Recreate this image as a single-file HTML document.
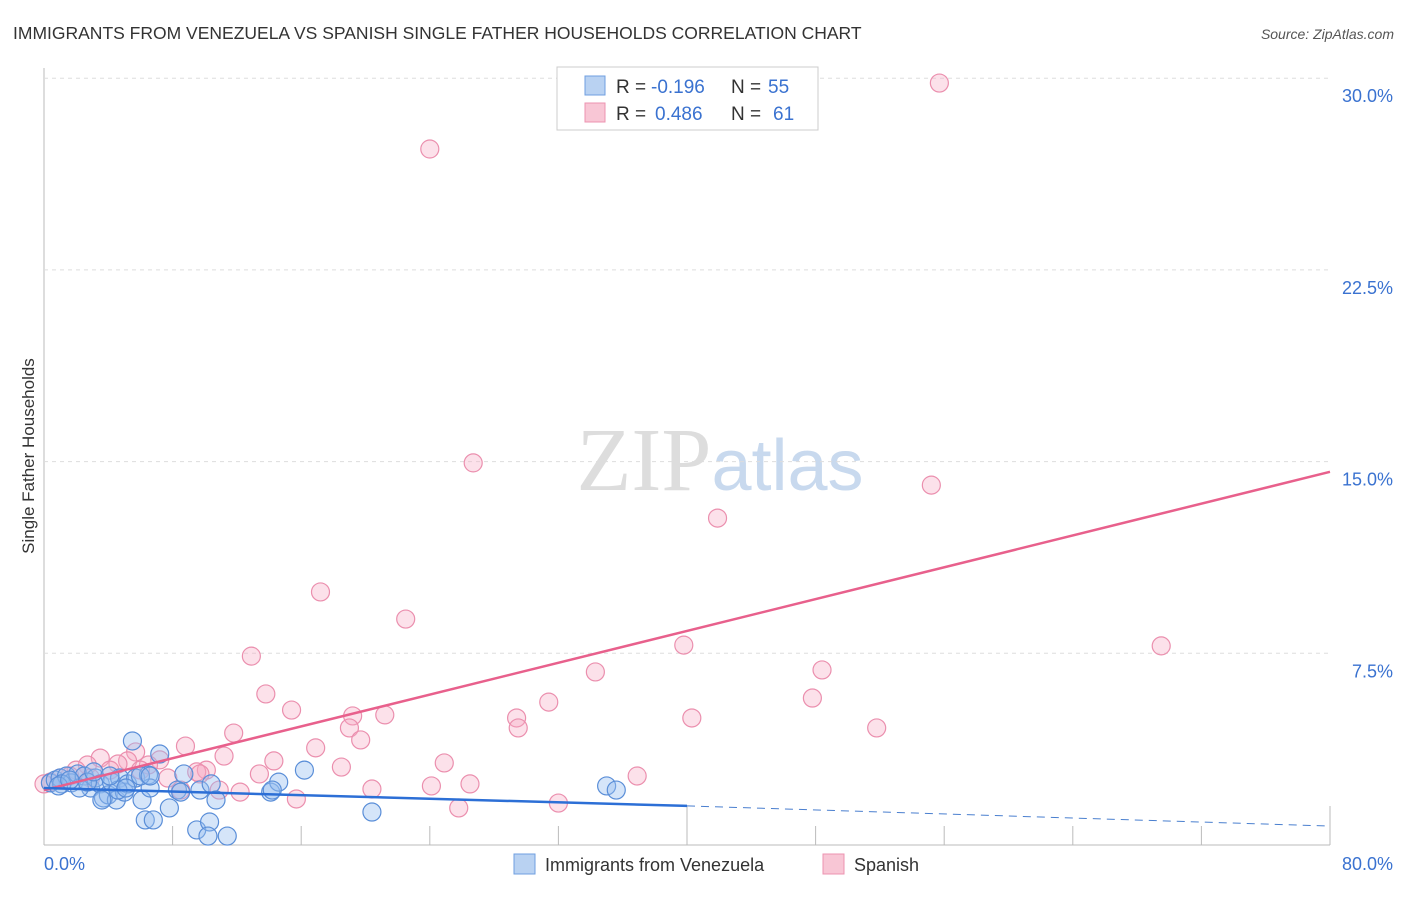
<!DOCTYPE html>
<html><head><meta charset="utf-8"><style>
body{margin:0;background:#fff;font-family:"Liberation Sans",sans-serif;}
</style></head><body>
<svg id="c" width="1406" height="892" xmlns="http://www.w3.org/2000/svg">
<text x="13" y="39" font-size="17.5" fill="#333">IMMIGRANTS FROM VENEZUELA VS SPANISH SINGLE FATHER HOUSEHOLDS CORRELATION CHART</text>
<text x="1394" y="39" font-size="14" fill="#555" font-style="italic" text-anchor="end">Source: ZipAtlas.com</text>
<text x="34" y="456" font-size="17" fill="#333" transform="rotate(-90 34 456)" text-anchor="middle">Single Father Households</text>
<text x="720" y="490" font-size="90" fill="#ddd" text-anchor="middle" font-family="Liberation Serif,serif">ZIP<tspan fill="#c8d9ee" font-family="Liberation Sans,sans-serif" font-size="72">atlas</tspan></text>
<g id="grid"></g><g id="pts"></g><g id="trend"></g>
<g>
<rect x="557" y="67" width="261" height="63" fill="#fff" stroke="#ccc"/>
<rect x="585" y="76" width="20" height="19" fill="#b9d2f2" stroke="#6f9fe0"/>
<rect x="585" y="103" width="20" height="19" fill="#f8c6d5" stroke="#ec93b0"/>
<text x="616" y="93" font-size="19" fill="#333">R =</text>
<text x="651" y="93" font-size="19" fill="#3a72d0">-0.196</text>
<text x="731" y="93" font-size="19" fill="#333">N =</text>
<text x="768" y="93" font-size="19" fill="#3a72d0">55</text>
<text x="616" y="120" font-size="19" fill="#333">R =</text>
<text x="655" y="120" font-size="19" fill="#3a72d0">0.486</text>
<text x="731" y="120" font-size="19" fill="#333">N =</text>
<text x="773" y="120" font-size="19" fill="#3a72d0">61</text>
</g>
<g>
<rect x="514" y="854" width="21" height="20" fill="#b9d2f2" stroke="#6f9fe0"/>
<text x="545" y="871" font-size="18" fill="#333">Immigrants from Venezuela</text>
<rect x="823" y="854" width="21" height="20" fill="#f8c6d5" stroke="#ec93b0"/>
<text x="854" y="871" font-size="18" fill="#333">Spanish</text>
</g>
</svg>
<script>
const blueX=[0.4,0.7,1.0,1.4,1.7,2.1,2.5,2.9,3.2,3.5,3.7,4.0,4.2,4.5,4.7,5.0,5.2,5.5,5.7,6.1,6.3,6.5,6.6,6.8,7.2,7.8,8.3,8.7,9.5,9.7,10.3,10.4,10.7,10.2,11.4,14.1,14.6,14.2,16.2,20.4,35.0,35.6,1.1,2.2,2.7,3.1,4.6,5.1,6.0,3.6,8.5,0.9,1.6,4.1,6.6];
const blueY=[2.43,2.54,2.62,2.70,2.43,2.78,2.70,2.23,2.62,2.39,1.84,1.96,2.46,1.76,2.62,2.07,2.39,4.07,2.62,1.76,0.98,2.74,2.23,0.98,3.56,1.45,2.15,2.78,0.59,2.15,0.90,2.39,1.76,0.35,0.35,2.07,2.46,2.15,2.93,1.29,2.31,2.15,2.39,2.23,2.46,2.86,2.15,2.23,2.70,1.76,2.07,2.31,2.54,2.70,2.70];
const pinkX=[55.7,24.0,26.7,55.2,41.9,17.2,22.5,12.9,39.8,69.5,34.3,48.4,13.8,47.8,31.4,15.4,19.2,21.2,29.4,40.3,29.5,51.8,19.0,11.8,19.7,8.8,16.9,5.7,3.5,5.2,7.2,11.2,14.3,24.9,18.5,6.5,4.6,10.1,13.4,9.5,36.9,26.5,24.1,20.4,8.5,10.9,12.2,15.7,32.0,25.8,2.7,2.0,1.6,1.0,0.4,4.1,7.7,9.7,6.0,2.9,0.0];
const pinkY=[29.81,27.23,14.95,14.08,12.79,9.90,8.84,7.39,7.82,7.79,6.77,6.85,5.91,5.75,5.59,5.28,5.05,5.09,4.97,4.97,4.58,4.58,4.58,4.38,4.11,3.87,3.80,3.64,3.40,3.29,3.33,3.48,3.29,3.21,3.05,3.13,3.17,2.93,2.78,2.86,2.70,2.39,2.31,2.19,2.15,2.15,2.07,1.80,1.64,1.45,3.13,2.93,2.70,2.62,2.46,2.93,2.62,2.78,2.93,2.62,2.39];
const blueTrendX=[0,40,80];
const blueTrendY=[2.23,1.53,0.74];
const pinkTrendX=[0,80];
const pinkTrendY=[2.15,14.6];
const yTicks=[7.5,15,22.5,30];
const yTickLabels=["7.5%","15.0%","22.5%","30.0%"];
const xTicks=[8,16,24,32,40,48,56,64,72,80];
const NS="http://www.w3.org/2000/svg";
const sx=v=>44+v*16.075, sy=v=>845-v*25.56;
function mk(p,t,a){const e=document.createElementNS(NS,t);for(const k in a)e.setAttribute(k,a[k]);p.appendChild(e);return e;}
const grid=document.getElementById('grid');
mk(grid,'line',{x1:44,y1:68,x2:44,y2:845,stroke:'#bbb'});
mk(grid,'line',{x1:44,y1:845,x2:1330,y2:845,stroke:'#bbb'});
yTicks.forEach((v,i)=>{
 const l=mk(grid,'line',{x1:44,x2:1330,y1:sy(v),y2:sy(v),stroke:'#ddd','stroke-dasharray':'4,4'});
 
 
 const t=mk(grid,'text',{x:1393,y:sy(v)+24,'font-size':18,fill:'#3a72d0','text-anchor':'end'});
 t.textContent=yTickLabels[i];
 
 
});
xTicks.forEach(v=>{
 const tall=(v===40||v===80);
 const l=mk(grid,'line',{x1:sx(v),x2:sx(v),y1:tall?806:826,y2:845,stroke:'#bbb'});
 
 
});
let t0=mk(grid,'text',{x:44,y:870,'font-size':18,fill:'#3a72d0'});t0.textContent='0.0%';


let t1=mk(grid,'text',{x:1393,y:870,'font-size':18,fill:'#3a72d0','text-anchor':'end'});t1.textContent='80.0%';


const pts=document.getElementById('pts');
pinkX.forEach((x,i)=>{const c=mk(pts,'circle',{cx:sx(x),cy:sy(pinkY[i]),r:9,fill:'rgba(245,170,195,0.35)',stroke:'#eb8fae','stroke-width':1.2});
 
 });
blueX.forEach((x,i)=>{const c=mk(pts,'circle',{cx:sx(x),cy:sy(blueY[i]),r:9,fill:'rgba(150,190,240,0.4)',stroke:'#5a8ed8','stroke-width':1.2});
 
 });
const tr=document.getElementById('trend');
const pl=mk(tr,'line',{x1:sx(pinkTrendX[0]),y1:sy(pinkTrendY[0]),x2:sx(pinkTrendX[1]),y2:sy(pinkTrendY[1]),stroke:'#e8608c','stroke-width':2.5});


const bl=mk(tr,'line',{x1:sx(blueTrendX[0]),y1:sy(blueTrendY[0]),x2:sx(blueTrendX[1]),y2:sy(blueTrendY[1]),stroke:'#2c6fd6','stroke-width':2.5});


const bd=mk(tr,'line',{x1:sx(blueTrendX[1]),y1:sy(blueTrendY[1]),x2:sx(blueTrendX[2]),y2:sy(blueTrendY[2]),stroke:'#4a7fcf','stroke-width':1,'stroke-dasharray':'8,6'});


</script>
</body></html>
